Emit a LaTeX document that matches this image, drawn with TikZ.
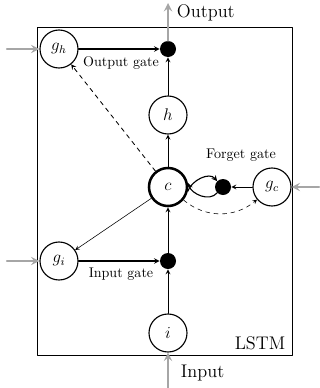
\documentclass[tikz,border=0pt]{standalone}
\begin{document}
\begin{tikzpicture}[>=stealth,line join=round,line cap=round,x=0.025cm,y=-0.025cm,
	unit/.style={draw,circle,thick,minimum size=0.95cm,inner sep=0pt,font=\large},
	gatedot/.style={circle,fill=black,minimum size=0.4cm,inner sep=0pt},
	feed/.style={->,gray!70,line width=1.6pt},
	lbl/.style={font=\normalsize}]
				\useasboundingbox (0,0) rectangle (320,388);
				\draw[semithick] (37,27) rectangle (292,355);
				\node[unit] (gh) at (59,49) {$g_h$};
				\node[gatedot] (od) at (168,49) {};
				\node[unit] (h) at (168,115) {$h$};
				\node[unit,line width=1.8pt] (c) at (168,187) {$c$};
				\node[gatedot] (fd) at (223,187) {};
				\node[unit] (gc) at (272,187) {$g_c$};
				\node[unit] (gi) at (59,261) {$g_i$};
				\node[gatedot] (id) at (168,261) {};
				\node[unit] (i) at (168,333) {$i$};
				\coordinate (outend) at (168,3);
				\coordinate (inend) at (168,388);
				\coordinate (ghin) at (7,49);
				\coordinate (giin) at (7,261);
				\coordinate (gcin) at (319,187);
				\draw[feed] (od) -- (outend);
				\draw[feed] (inend) -- (i);
				\draw[feed] (ghin) -- (gh);
				\draw[feed] (giin) -- (gi);
				\draw[feed] (gcin) -- (gc);
				\draw[->,thick] (gh) -- (od);
				\draw[->,semithick] (h) -- (od);
				\draw[->,semithick] (c) -- (h);
				\draw[->,semithick,dashed] (c) -- (gh);
				\draw[->] (c) -- (gi);
				\draw[->,thick] (gi) -- (id);
				\draw[->,semithick] (i) -- (id);
				\draw[->,semithick] (id) -- (c);
				\draw[->,semithick] (gc) -- (fd);
				\draw[->,thick] (c.-12) to[out=70,in=130] (fd.north west);
				\draw[->,thick] (fd.south west) to[out=230,in=-70] (c.12);
				\draw[->,dashed] (c.-40) to[out=-40,in=-140] (gc.-140);
				\node[font=\fontsize{13}{15}\selectfont,anchor=west] (outlbl) at (172,13) {Output};
				\node[font=\fontsize{13}{15}\selectfont,anchor=west] (inlbl) at (176,373) {Input};
				\node[font=\fontsize{13}{15}\selectfont] (lstm) at (260,343) {LSTM};
				\node[lbl] (ogate) at (121,63) {Output gate};
				\node[lbl] (fgate) at (241,155) {Forget gate};
				\node[lbl] (igate) at (121,274) {Input gate};
			\end{tikzpicture}
\end{document}
